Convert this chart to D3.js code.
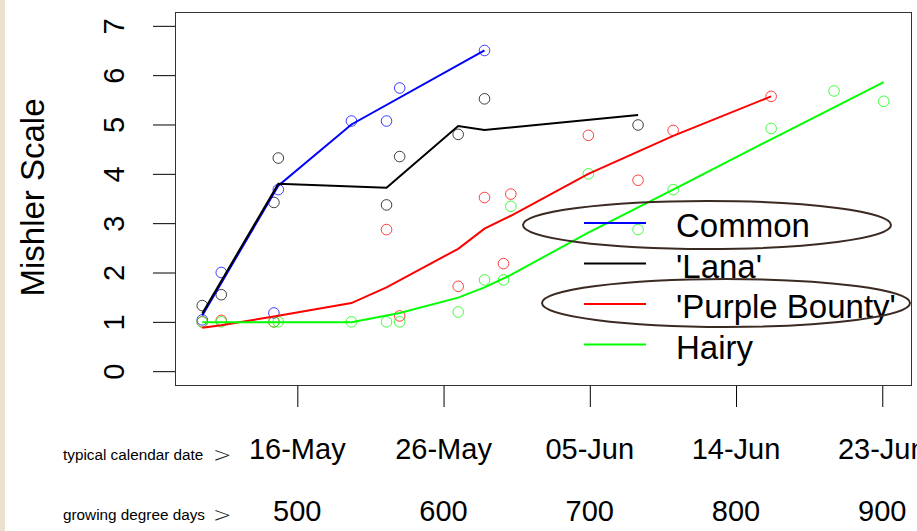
<!DOCTYPE html>
<html>
<head>
<meta charset="utf-8">
<script src="https://cdn.jsdelivr.net/npm/d3@7/dist/d3.min.js"></script>
<style>
  body { margin: 0; background: #fff; }
  svg { display: block; font-family: "Liberation Sans", Arial, sans-serif; }
</style>
</head>
<body>
<svg id="chart" width="917" height="531"></svg>
<script>
// observed scores (Mishler scale) by growing degree days
const commonGdd = [435, 448, 484, 487, 537, 561, 570, 628];
const commonScore = [1.04, 2.0, 1.18, 3.68, 5.07, 5.07, 5.74, 6.5];
const commonFitGdd = [435, 487, 537, 628];
const commonFit = [1.13, 3.76, 5.0, 6.5];

const lanaGdd = [435, 448, 484, 487, 561, 570, 610, 628, 733];
const lanaScore = [1.33, 1.55, 3.42, 4.32, 3.37, 4.35, 4.8, 5.52, 4.99];
const lanaFitGdd = [435, 487, 561, 610, 628, 733];
const lanaFit = [1.17, 3.8, 3.72, 4.97, 4.89, 5.19];

const purpleGdd = [435, 448, 484, 561, 570, 610, 628, 641, 646, 699, 733, 757, 824];
const purpleScore = [1.0, 1.03, 1.0, 2.87, 1.12, 1.72, 3.52, 2.18, 3.59, 4.78, 3.87, 4.88, 5.57];
const purpleFitGdd = [435, 448, 484, 537, 561, 610, 628, 646, 699, 733, 757, 824];
const purpleFit = [0.88, 0.93, 1.11, 1.38, 1.7, 2.48, 2.89, 3.15, 4.0, 4.45, 4.77, 5.57];

const hairyGdd = [435, 448, 484, 487, 537, 561, 570, 610, 628, 641, 646, 699, 733, 757, 824, 867, 901];
const hairyScore = [1.0, 1.0, 1.0, 1.0, 1.0, 1.0, 1.0, 1.2, 1.85, 1.85, 3.34, 4.0, 2.87, 3.68, 4.92, 5.68, 5.47];
const hairyFitGdd = [435, 537, 570, 610, 628, 646, 699, 757, 824, 901];
const hairyFit = [0.99, 0.99, 1.18, 1.49, 1.7, 1.95, 2.81, 3.68, 4.7, 5.86];

const seriesNames = ['Common', "'Lana'", "'Purple Bounty'", 'Hairy'];
const seriesColors = ['#0000ff', '#000000', '#ff0000', '#00ff00'];

const gddTicks = [500, 600, 700, 800, 900];
const dateLabels = ['16-May', '26-May', '05-Jun', '14-Jun', '23-Jun'];
const yTicks = [0, 1, 2, 3, 4, 5, 6, 7];

const zip = (xs, ys) => xs.map((d, i) => [d, ys[i]]);

const series = [
  { points: zip(commonGdd, commonScore), fit: zip(commonFitGdd, commonFit) },
  { points: zip(lanaGdd, lanaScore), fit: zip(lanaFitGdd, lanaFit) },
  { points: zip(purpleGdd, purpleScore), fit: zip(purpleFitGdd, purpleFit) },
  { points: zip(hairyGdd, hairyScore), fit: zip(hairyFitGdd, hairyFit) }
];
series.forEach((s, i) => { s.name = seriesNames[i]; s.color = seriesColors[i]; });

const box = { left: 175, right: 911, top: 12, bottom: 385 };
const svg = d3.select('#chart');

// beige page edge on the far left
svg.append('rect').attr('x', 0).attr('y', 0).attr('width', 5).attr('height', 531).attr('fill', '#ece2cf');

// R style 4% padding around the data range
const ext = d3.extent([].concat(commonGdd, lanaGdd, purpleGdd, hairyGdd));
const pad = (ext[1] - ext[0]) * 0.04;
const x = d3.scaleLinear().domain([ext[0] - pad, ext[1] + pad]).range([box.left, box.right]);
const y = d3.scaleLinear().domain([-0.28, 7.28]).range([box.bottom, box.top]);

// y axis
const yAxis = svg.append('g')
    .attr('transform', 'translate(' + box.left + ',0)')
    .call(d3.axisLeft(y).tickValues(yTicks).tickSize(22).tickSizeOuter(0).tickFormat(d3.format('d')));
yAxis.select('.domain').remove();
yAxis.selectAll('line').attr('stroke', '#000');
yAxis.selectAll('text')
    .attr('x', null).attr('dy', null)
    .attr('transform', 'translate(-51,0) rotate(-90)')
    .attr('text-anchor', 'middle')
    .attr('font-size', 29)
    .attr('fill', '#000');

svg.append('text')
    .attr('transform', 'translate(44,' + ((98 + 297) / 2) + ') rotate(-90)')
    .attr('text-anchor', 'middle')
    .attr('font-size', 33)
    .text('Mishler Scale');

// x axis ticks only; labels are set as two rows below
const xAxis = svg.append('g')
    .attr('transform', 'translate(0,' + box.bottom + ')')
    .call(d3.axisBottom(x).tickValues(gddTicks).tickSize(22).tickSizeOuter(0).tickFormat(''));
xAxis.select('.domain').remove();
xAxis.selectAll('line').attr('stroke', '#000');

svg.selectAll('.dateLabel')
    .data(gddTicks)
    .join('text')
    .attr('class', 'dateLabel')
    .attr('x', d => x(d))
    .attr('y', 459)
    .attr('text-anchor', 'middle')
    .attr('font-size', 29)
    .text((d, i) => dateLabels[i]);

svg.selectAll('.gddLabel')
    .data(gddTicks)
    .join('text')
    .attr('class', 'gddLabel')
    .attr('x', d => x(d))
    .attr('y', 521)
    .attr('text-anchor', 'middle')
    .attr('font-size', 29)
    .text(d => d);

const rowLabels = [['typical calendar date', 460], ['growing degree days', 520]];
rowLabels.forEach(r => {
  svg.append('text').attr('x', 63).attr('y', r[1]).attr('font-size', 15.3).text(r[0]);
  svg.append('text').attr('x', 213).attr('y', r[1] + 2)
      .attr('font-family', 'DejaVu Sans').attr('font-size', 22).attr('font-weight', 200)
      .attr('fill', '#222').text('>');
});

// data
const line = d3.line().x(d => x(d[0])).y(d => y(d[1]));
const plot = svg.append('g');

series.forEach(s => {
  plot.append('g').selectAll('circle')
      .data(s.points)
      .join('circle')
      .attr('cx', d => x(d[0]))
      .attr('cy', d => y(d[1]))
      .attr('r', 5.3)
      .attr('fill', 'none')
      .attr('stroke', s.color)
      .attr('stroke-opacity', 0.75)
      .attr('stroke-width', 1);
});

series.forEach(s => {
  plot.append('path')
      .datum(s.fit)
      .attr('d', line)
      .attr('fill', 'none')
      .attr('stroke', s.color)
      .attr('stroke-width', 2);
});

// plot frame
svg.append('rect')
    .attr('x', box.left + 0.5).attr('y', box.top + 0.5)
    .attr('width', box.right - box.left).attr('height', box.bottom - box.top)
    .attr('fill', 'none').attr('stroke', '#333').attr('stroke-width', 1);

// legend
const legend = svg.append('g');
series.forEach((s, i) => {
  const base = 237 + i * 40.5;
  legend.append('line')
      .attr('x1', 584).attr('x2', 646)
      .attr('y1', base - 14).attr('y2', base - 14)
      .attr('stroke', s.color).attr('stroke-width', 2);
  legend.append('text')
      .attr('x', 676).attr('y', base)
      .attr('font-size', 33)
      .text(s.name);
});

// hand drawn ellipses around two of the legend entries
const rings = [[707, 225, 184, 24], [726, 303, 184, 24]];
rings.forEach(r => {
  svg.append('ellipse')
      .attr('cx', r[0]).attr('cy', r[1]).attr('rx', r[2]).attr('ry', r[3])
      .attr('fill', 'none').attr('stroke', '#3b2a22').attr('stroke-width', 2);
});
</script>
</body>
</html>
